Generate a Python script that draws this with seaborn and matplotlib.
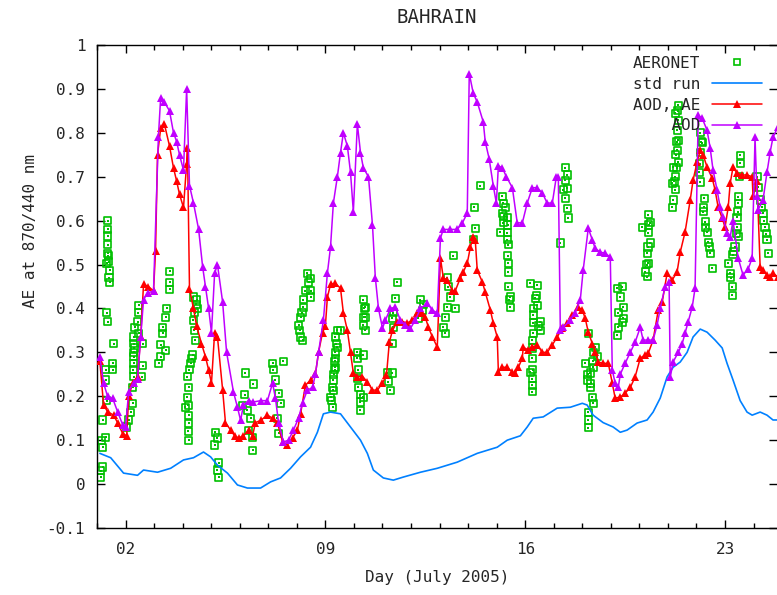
import numpy as np
import matplotlib
matplotlib.use("Agg")
import matplotlib.pyplot as plt
from matplotlib.lines import Line2D
import seaborn as sns

# values: x = day of July 2005, y = Angstrom exponent 870/440 nm

# AERONET observations (one line per day cluster)
aeronet_day = [
    1.37, 1.37, 1.37, 1.37, 1.41, 1.44, 1.44, 1.34, 1.34, 1.37, 1.58, 1.55, 1.55, 1.30, 1.30, 1.34, 1.20, 1.30, 1.20, 1.20, 1.13, 1.13, 1.16, 1.37, 1.40, 1.42,
    2.18, 2.25, 2.25, 2.28, 2.28, 2.28, 2.28, 2.28, 2.32, 2.42, 2.46, 2.46, 2.60, 2.60, 2.56, 2.11, 2.04, 2.27, 2.29, 2.30, 2.45,
    3.16, 3.23, 3.23, 3.30, 3.30, 3.40, 3.44, 3.40, 3.54, 3.54, 3.54,
    4.10, 4.17, 4.17, 4.21, 4.21, 4.21, 4.21, 4.28, 4.35, 4.38, 4.38, 4.45, 4.49, 4.52, 4.19, 4.20, 4.24, 4.32, 4.40, 4.42, 4.47,
    5.12, 5.15, 5.22, 5.22, 5.26, 5.26,
    6.10, 6.17, 6.20, 6.27, 6.31, 6.38, 6.45, 6.45, 6.48,
    7.15, 7.18, 7.25, 7.32, 7.36, 7.36, 7.43, 7.53,
    8.06, 8.13, 8.13, 8.20, 8.23, 8.23, 8.37, 8.48, 8.48, 8.48, 8.10, 8.18, 8.30, 8.42,
    9.18, 9.25, 9.25, 9.28, 9.28, 9.32, 9.35, 9.35, 9.35, 9.35, 9.42, 9.42, 9.53, 9.30, 9.33, 9.38, 9.22,
    10.12, 10.12, 10.16, 10.16, 10.23, 10.23, 10.23, 10.33, 10.33, 10.33, 10.33, 10.40, 10.40, 10.40, 10.35, 10.37, 10.14,
    11.17, 11.21, 11.28, 11.35, 11.35, 11.35, 11.38, 11.38, 11.45, 11.52,
    12.26, 12.33, 12.40, 12.43,
    13.13, 13.20, 13.20, 13.27, 13.27, 13.31, 13.38, 13.48, 13.55,
    14.18, 14.22, 14.25, 14.43,
    15.13, 15.20, 15.20, 15.23, 15.23, 15.30, 15.37, 15.37, 15.37, 15.41, 15.41, 15.41, 15.41, 15.48, 15.48, 15.38, 15.39, 15.44, 15.25,
    16.18, 16.18, 16.25, 16.25, 16.25, 16.25, 16.25, 16.28, 16.28, 16.28, 16.35, 16.42, 16.42, 16.53, 16.53, 16.26, 16.27, 16.30, 16.40, 16.48,
    17.23, 17.33, 17.40, 17.40, 17.40, 17.47, 17.47, 17.47, 17.51,
    18.10, 18.17, 18.21, 18.21, 18.21, 18.21, 18.28, 18.28, 18.35, 18.38, 18.38, 18.45, 18.52, 18.19, 18.30, 18.36, 18.40,
    19.22, 19.22, 19.26, 19.26, 19.33, 19.40, 19.40, 19.43, 19.43,
    20.10, 20.20, 20.27, 20.27, 20.31, 20.31, 20.31, 20.38, 20.38, 20.30, 20.32, 20.25,
    21.15, 21.15, 21.18, 21.18, 21.25, 21.25, 21.25, 21.32, 21.32, 21.36, 21.36, 21.36, 21.36, 21.30, 21.34, 21.22, 21.30, 21.28,
    22.09, 22.13, 22.13, 22.13, 22.20, 22.23, 22.27, 22.30, 22.37, 22.41, 22.48, 22.55, 22.12, 22.16, 22.25, 22.33, 22.44,
    23.11, 23.18, 23.25, 23.25, 23.28, 23.35, 23.42, 23.42, 23.46, 23.46, 23.46, 23.53, 23.53, 23.44, 23.40, 23.30, 23.20, 23.50,
    24.12, 24.16, 24.23, 24.33, 24.40, 24.47, 24.51, 24.28, 24.36, 24.44,
]
aeronet_ae = [
    0.600, 0.565, 0.545, 0.526, 0.506, 0.487, 0.460, 0.503, 0.390, 0.370, 0.320, 0.275, 0.260, 0.260, 0.237, 0.190, 0.146, 0.107, 0.084, 0.039, 0.016, 0.030, 0.100, 0.580, 0.520, 0.470,
    0.164, 0.184, 0.220, 0.244, 0.275, 0.300, 0.320, 0.335, 0.357, 0.370, 0.407, 0.344, 0.320, 0.270, 0.244, 0.146, 0.130, 0.260, 0.290, 0.310, 0.390,
    0.275, 0.290, 0.317, 0.344, 0.357, 0.380, 0.400, 0.305, 0.444, 0.460, 0.485,
    0.175, 0.198, 0.244, 0.100, 0.139, 0.157, 0.220, 0.275, 0.294, 0.373, 0.426, 0.328, 0.420, 0.400, 0.120, 0.180, 0.260, 0.285, 0.350, 0.390, 0.410,
    0.089, 0.118, 0.105, 0.032, 0.048, 0.016,
    0.180, 0.203, 0.253, 0.168, 0.123, 0.150, 0.107, 0.077, 0.228,
    0.275, 0.260, 0.237, 0.150, 0.207, 0.116, 0.184, 0.280,
    0.362, 0.380, 0.335, 0.328, 0.420, 0.403, 0.480, 0.469, 0.440, 0.426, 0.350, 0.390, 0.440, 0.460,
    0.198, 0.220, 0.175, 0.237, 0.214, 0.260, 0.300, 0.335, 0.287, 0.266, 0.350, 0.312, 0.350, 0.250, 0.280, 0.320, 0.190,
    0.300, 0.287, 0.260, 0.220, 0.203, 0.187, 0.168, 0.420, 0.362, 0.294, 0.198, 0.403, 0.380, 0.350, 0.380, 0.400, 0.240,
    0.253, 0.233, 0.214, 0.253, 0.378, 0.320, 0.390, 0.357, 0.423, 0.460,
    0.378, 0.420, 0.396, 0.410,
    0.357, 0.380, 0.344, 0.470, 0.403, 0.449, 0.426, 0.520, 0.400,
    0.556, 0.630, 0.583, 0.680,
    0.574, 0.656, 0.617, 0.640, 0.595, 0.630, 0.608, 0.572, 0.556, 0.545, 0.503, 0.483, 0.449, 0.426, 0.403, 0.520, 0.590, 0.420, 0.610,
    0.457, 0.255, 0.328, 0.287, 0.240, 0.225, 0.210, 0.385, 0.367, 0.344, 0.423, 0.453, 0.407, 0.370, 0.350, 0.260, 0.310, 0.400, 0.430, 0.360,
    0.549, 0.670, 0.720, 0.692, 0.651, 0.704, 0.674, 0.628, 0.606,
    0.275, 0.237, 0.344, 0.164, 0.146, 0.128, 0.253, 0.220, 0.198, 0.266, 0.184, 0.312, 0.290, 0.250, 0.230, 0.280, 0.300,
    0.446, 0.339, 0.390, 0.357, 0.426, 0.449, 0.367, 0.403, 0.378,
    0.585, 0.483, 0.526, 0.472, 0.613, 0.572, 0.503, 0.595, 0.549, 0.540, 0.590, 0.500,
    0.685, 0.630, 0.722, 0.647, 0.845, 0.700, 0.670, 0.806, 0.760, 0.863, 0.829, 0.783, 0.733, 0.780, 0.850, 0.690, 0.720, 0.750,
    0.710, 0.800, 0.756, 0.688, 0.777, 0.620, 0.651, 0.597, 0.574, 0.551, 0.526, 0.492, 0.730, 0.780, 0.630, 0.585, 0.540,
    0.503, 0.480, 0.449, 0.430, 0.522, 0.540, 0.608, 0.585, 0.654, 0.640, 0.563, 0.749, 0.731, 0.620, 0.570, 0.530, 0.470, 0.700,
    0.700, 0.676, 0.647, 0.617, 0.585, 0.556, 0.526, 0.630, 0.600, 0.570,
]

# model "std run"
std_day = [1.10, 1.48, 1.93, 2.42, 2.63, 3.12, 3.58, 4.03, 4.38, 4.73, 4.98, 5.22, 5.57, 5.92, 6.27,
           6.73, 7.08, 7.43, 7.78, 8.13, 8.48, 8.72, 8.93, 9.18, 9.53, 9.88, 10.23, 10.47, 10.68, 11.03,
           11.38, 11.73, 12.33, 12.92, 13.62, 14.32, 15.02, 15.37, 15.83, 16.07, 16.28, 16.63, 17.12,
           17.58, 18.00, 18.17, 18.38, 18.73, 19.08, 19.33, 19.57, 19.92, 20.27, 20.48, 20.73, 20.97,
           21.18, 21.43, 21.67, 21.88, 22.13, 22.37, 22.65, 22.90, 23.07, 23.28, 23.53, 23.77, 23.95,
           24.23, 24.47, 24.68, 24.85]
std_ae = [0.070, 0.060, 0.025, 0.020, 0.032, 0.027, 0.036, 0.055, 0.060, 0.073, 0.062, 0.043, 0.025, -0.002, -0.009,
          -0.009, 0.005, 0.014, 0.036, 0.062, 0.084, 0.118, 0.160, 0.164, 0.160, 0.130, 0.100, 0.070, 0.032, 0.014,
          0.009, 0.016, 0.027, 0.036, 0.050, 0.070, 0.084, 0.100, 0.110, 0.130, 0.150, 0.153, 0.173,
          0.175, 0.184, 0.180, 0.157, 0.140, 0.130, 0.118, 0.123, 0.139, 0.146, 0.164, 0.196, 0.244,
          0.266, 0.278, 0.300, 0.335, 0.353, 0.346, 0.328, 0.310, 0.275, 0.237, 0.190, 0.164, 0.157,
          0.164, 0.157, 0.146, 0.146]

# model AE from "AOD, AE" run
aodae_day = [1.10, 1.23, 1.37, 1.58, 1.72, 1.90, 2.04, 2.11, 2.25, 2.42, 2.53, 2.63, 2.80, 2.98, 3.05,
             3.12, 3.23, 3.36, 3.54, 3.68, 3.79, 3.89, 4.03, 4.14, 4.17, 4.24, 4.38, 4.49, 4.66, 4.80,
             4.91, 5.01, 5.12, 5.22, 5.40, 5.50, 5.68, 5.82, 5.96, 6.13, 6.31, 6.45, 6.55, 6.73, 6.97,
             7.15, 7.32, 7.50, 7.67, 7.85, 8.02, 8.13, 8.30, 8.48, 8.65, 8.76, 8.90, 9.00, 9.07, 9.18,
             9.35, 9.53, 9.63, 9.77, 9.88, 9.98, 10.12, 10.30, 10.47, 10.65, 10.82, 11.00, 11.14, 11.24,
             11.35, 11.52, 11.70, 11.87, 12.05, 12.22, 12.40, 12.50, 12.61, 12.75, 12.92, 13.03, 13.13,
             13.27, 13.45, 13.55, 13.73, 13.83, 13.97, 14.08, 14.18, 14.25, 14.32, 14.50, 14.60, 14.78,
             14.88, 15.02, 15.06, 15.20, 15.37, 15.55, 15.65, 15.76, 15.90, 15.93, 16.11, 16.25, 16.42,
             16.60, 16.77, 16.95, 17.12, 17.30, 17.47, 17.65, 17.86, 18.00, 18.10, 18.21, 18.35, 18.45,
             18.56, 18.73, 18.91, 19.05, 19.15, 19.33, 19.50, 19.68, 19.85, 20.03, 20.20, 20.31, 20.48,
             20.66, 20.80, 20.97, 21.15, 21.32, 21.43, 21.60, 21.78, 21.88, 22.02, 22.13, 22.23, 22.37,
             22.55, 22.65, 22.76, 22.90, 23.00, 23.11, 23.18, 23.28, 23.42, 23.60, 23.77, 23.95, 23.98,
             24.12, 24.23, 24.33, 24.47, 24.58, 24.68, 24.85]
aodae_ae = [0.280, 0.180, 0.165, 0.157, 0.140, 0.115, 0.110, 0.200, 0.230, 0.245, 0.335, 0.455, 0.450, 0.440, 0.530,
            0.750, 0.810, 0.820, 0.770, 0.720, 0.690, 0.660, 0.630, 0.730, 0.765, 0.445, 0.400, 0.360, 0.320, 0.290,
            0.260, 0.230, 0.345, 0.335, 0.215, 0.140, 0.123, 0.110, 0.105, 0.110, 0.123, 0.110, 0.140, 0.145, 0.157,
            0.150, 0.140, 0.096, 0.090, 0.105, 0.123, 0.160, 0.225, 0.237, 0.250, 0.300, 0.345, 0.360, 0.425, 0.455,
            0.457, 0.446, 0.390, 0.350, 0.300, 0.253, 0.245, 0.245, 0.233, 0.214, 0.214, 0.230, 0.248, 0.323,
            0.350, 0.370, 0.370, 0.367, 0.373, 0.390, 0.390, 0.380, 0.357, 0.335, 0.312, 0.515, 0.470,
            0.465, 0.440, 0.440, 0.470, 0.483, 0.503, 0.540, 0.563, 0.556, 0.487, 0.460, 0.437, 0.396,
            0.367, 0.335, 0.255, 0.266, 0.266, 0.255, 0.253, 0.266, 0.287, 0.312, 0.305, 0.312, 0.317,
            0.300, 0.300, 0.317, 0.335, 0.355, 0.367, 0.385, 0.403, 0.396, 0.378, 0.346, 0.320, 0.300,
            0.278, 0.275, 0.275, 0.230, 0.196, 0.198, 0.207, 0.220, 0.244, 0.287, 0.294, 0.298, 0.328,
            0.396, 0.415, 0.480, 0.465, 0.483, 0.528, 0.574, 0.647, 0.692, 0.733, 0.760, 0.750, 0.722,
            0.697, 0.670, 0.630, 0.606, 0.585, 0.630, 0.685, 0.722, 0.708, 0.704, 0.704, 0.700, 0.655,
            0.690, 0.494, 0.487, 0.476, 0.472, 0.480, 0.472]

# model AE from "AOD" run
aod_day = [1.10, 1.23, 1.37, 1.55, 1.72, 1.90, 2.00, 2.11, 2.28, 2.42, 2.53, 2.63, 2.77, 2.98, 3.15,
           3.23, 3.36, 3.54, 3.68, 3.79, 3.89, 4.03, 4.14, 4.24, 4.38, 4.56, 4.70, 4.80, 4.91, 5.01,
           5.12, 5.22, 5.40, 5.54, 5.78, 5.92, 6.03, 6.13, 6.31, 6.48, 6.73, 6.97, 7.15, 7.25, 7.36,
           7.53, 7.71, 7.88, 8.06, 8.20, 8.37, 8.55, 8.65, 8.76, 8.93, 9.07, 9.18, 9.28, 9.42, 9.53,
           9.63, 9.77, 9.88, 9.98, 10.12, 10.23, 10.33, 10.51, 10.65, 10.75, 10.86, 11.00, 11.10, 11.28,
           11.45, 11.63, 11.80, 11.98, 12.15, 12.33, 12.57, 12.75, 12.92, 13.03, 13.13, 13.38, 13.62,
           13.80, 13.97, 14.04, 14.18, 14.32, 14.53, 14.60, 14.74, 14.88, 14.99, 15.06, 15.20, 15.34,
           15.55, 15.72, 15.90, 16.07, 16.25, 16.42, 16.60, 16.77, 16.95, 17.09, 17.16, 17.23, 17.33,
           17.58, 17.75, 17.93, 18.03, 18.21, 18.35, 18.45, 18.63, 18.80, 18.98, 19.05, 19.15, 19.26,
           19.33, 19.50, 19.68, 19.85, 20.03, 20.13, 20.31, 20.48, 20.62, 20.73, 20.90, 21.04, 21.08,
           21.18, 21.36, 21.50, 21.60, 21.71, 21.85, 21.95, 22.06, 22.20, 22.37, 22.48, 22.58, 22.72,
           22.83, 22.93, 23.07, 23.18, 23.28, 23.46, 23.63, 23.81, 23.95, 24.05, 24.12, 24.16, 24.33,
           24.47, 24.58, 24.68, 24.85]
aod_ae = [0.290, 0.230, 0.200, 0.195, 0.165, 0.135, 0.130, 0.210, 0.230, 0.240, 0.335, 0.420, 0.435, 0.440, 0.790,
          0.880, 0.870, 0.850, 0.800, 0.780, 0.750, 0.715, 0.900, 0.680, 0.640, 0.580, 0.495, 0.450, 0.400, 0.345,
          0.480, 0.500, 0.415, 0.300, 0.210, 0.175, 0.145, 0.180, 0.190, 0.187, 0.190, 0.190, 0.230, 0.196, 0.140,
          0.096, 0.100, 0.123, 0.150, 0.185, 0.214, 0.220, 0.250, 0.300, 0.373, 0.480, 0.540, 0.640, 0.700, 0.755,
          0.800, 0.770, 0.710, 0.620, 0.820, 0.755, 0.720, 0.700, 0.590, 0.470, 0.400, 0.355, 0.373, 0.400,
          0.403, 0.373, 0.362, 0.355, 0.373, 0.400, 0.412, 0.396, 0.390, 0.560, 0.580, 0.580, 0.580,
          0.595, 0.617, 0.935, 0.890, 0.870, 0.825, 0.780, 0.740, 0.680, 0.640, 0.725, 0.720, 0.700,
          0.675, 0.595, 0.595, 0.640, 0.675, 0.675, 0.663, 0.640, 0.640, 0.700, 0.700, 0.350, 0.357,
          0.373, 0.390, 0.420, 0.487, 0.583, 0.556, 0.537, 0.528, 0.526, 0.517, 0.260, 0.230, 0.220,
          0.250, 0.275, 0.300, 0.323, 0.357, 0.328, 0.328, 0.328, 0.362, 0.400, 0.450, 0.460, 0.243,
          0.278, 0.300, 0.320, 0.344, 0.370, 0.403, 0.446, 0.840, 0.833, 0.806, 0.765, 0.715, 0.670,
          0.630, 0.608, 0.572, 0.563, 0.600, 0.515, 0.476, 0.490, 0.515, 0.790, 0.655, 0.625, 0.647,
          0.710, 0.756, 0.790, 0.813]

day_ticks = [2, 9, 16, 23]
day_labels = ["02", "09", "16", "23"]
ae_ticks = [-0.1, 0.0, 0.1, 0.2, 0.3, 0.4, 0.5, 0.6, 0.7, 0.8, 0.9, 1.0]
ae_labels = ["-0.1", "0", "0.1", "0.2", "0.3", "0.4", "0.5", "0.6", "0.7", "0.8", "0.9", "1"]

green = "#00c000"
blue = "#0080ff"
red = "#ff0000"
violet = "#c000ff"

sns.set_style("ticks")
plt.rcParams["font.family"] = ["DejaVu Sans Mono"]
plt.rcParams["font.size"] = 11.5

fig = plt.figure(figsize=(7.77, 5.95), dpi=100)
ax = fig.add_axes([97 / 777, 1 - 528 / 595, 680 / 777, 483 / 595])

# AERONET squares (open box with a small centre dot, like gnuplot)
sns.scatterplot(x=aeronet_day, y=aeronet_ae, marker="s", s=26, facecolor="none",
                edgecolor=green, linewidth=1.2, ax=ax, zorder=2)
sns.scatterplot(x=aeronet_day, y=aeronet_ae, marker="s", s=1.2, color=green,
                linewidth=0, ax=ax, zorder=2)

sns.lineplot(x=std_day, y=std_ae, color=blue, lw=1.2, ax=ax, estimator=None, sort=False, zorder=3)
sns.lineplot(x=aodae_day, y=aodae_ae, color=red, lw=1.1, marker="^", markersize=5.5,
             markeredgewidth=0, ax=ax, estimator=None, sort=False, zorder=4)
sns.lineplot(x=aod_day, y=aod_ae, color=violet, lw=1.1, marker="^", markersize=5.5,
             markeredgewidth=0, ax=ax, estimator=None, sort=False, zorder=5)

ax.set_xlim(1.02, 24.82)
ax.set_ylim(-0.1, 1.0)
ax.set_xticks(day_ticks)
ax.set_xticklabels(day_labels)
ax.set_xticks(np.arange(1, 25), minor=True)
ax.set_yticks(ae_ticks)
ax.set_yticklabels(ae_labels)
ax.tick_params(which="both", direction="in", top=True, right=True, color="black", width=1)
ax.tick_params(which="major", length=6)
ax.tick_params(which="minor", length=3.5)
ax.tick_params(axis="y", pad=8.5)
ax.tick_params(axis="x", pad=10)
for side in ["left", "bottom", "top"]:
    ax.spines[side].set_color("black")
    ax.spines[side].set_linewidth(1)
ax.spines["right"].set_visible(False)

ax.set_title("BAHRAIN", pad=16)
ax.set_xlabel("Day (July 2005)")
ax.xaxis.label.set_va("center")
ax.xaxis.set_label_coords(0.5, -0.1035)
ax.set_ylabel("AE at 870/440 nm")
ax.yaxis.label.set_va("center")
ax.yaxis.set_label_coords(-0.0985, 0.615)

handles = [
    Line2D([], [], ls="none", marker="s", mfc="none", mec=green, ms=5, mew=1.2),
    Line2D([], [], color=blue, lw=1.2),
    Line2D([], [], color=red, lw=1.1, marker="^", ms=5.5, mew=0),
    Line2D([], [], color=violet, lw=1.1, marker="^", ms=5.5, mew=0),
]
labels = ["AERONET", "std run", "AOD, AE", f"{'AOD':>7}"]
ax.legend(handles, labels, loc="upper right", bbox_to_anchor=(762 / 777, 1 - 56 / 595),
          bbox_transform=fig.transFigure, frameon=False, markerfirst=False,
          handlelength=3.1, handletextpad=0.75, labelspacing=0.36,
          borderpad=0, borderaxespad=0)

fig.savefig("out.png", dpi=100)
